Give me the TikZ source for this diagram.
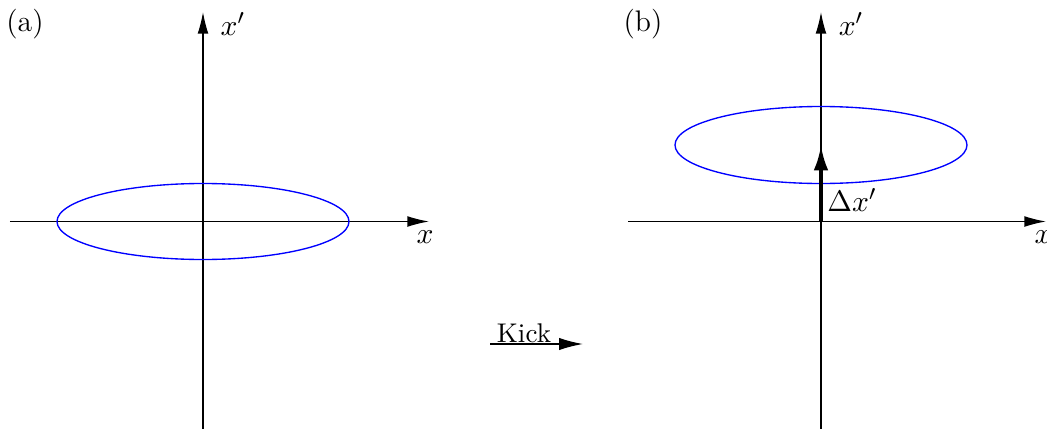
\documentclass[tikz,border=0pt]{standalone}
\usetikzlibrary{arrows.meta}

\begin{document}
\begin{tikzpicture}[x=0.013cm, y=-0.013cm,
      every node/.style={inner sep=0pt},
      lbl/.style={font=\fontsize{11}{13}\selectfont},
      axis/.style={draw=black, line width=0.45pt, -{Latex[length=0.28cm, width=0.14cm]}},
      beam/.style={draw=blue, line width=0.5pt},
      kick/.style={draw=black, line width=1.5pt, -{Latex[length=0.33cm, width=0.19cm]}},
      step arrow/.style={draw=black, line width=0.5pt, -{Latex[length=0.31cm, width=0.16cm]}}]

    \useasboundingbox (0,0) rectangle (1047,429);

    % panel (a): phase space before the kick
    \coordinate (Oa) at (203,221.5);
    \coordinate (aL) at (10,221.5);
    \coordinate (aR) at (429,221.5);
    \coordinate (aB) at (203,429);
    \coordinate (aT) at (203,12);
    \draw[axis] (aL) -- (aR);
    \draw[axis] (aB) -- (aT);
    \draw[beam] (Oa) ellipse [x radius=146, y radius=38];
    \node[lbl] (labA) at (25,24) {(a)};
    \node[lbl] (xpA) at (233,24) {$x'$};
    \node[lbl] (xA) at (425,237) {$x$};

    % the kick between the panels
    \node (kickTxt) at (524,333) {Kick};
    \coordinate (kL) at (490,344);
    \coordinate (kR) at (583,344);
    \draw[step arrow] (kL) -- (kR);

    % panel (b): ellipse moved up by the kick
    \coordinate (Ob) at (821,221.5);
    \coordinate (Cb) at (821,145);
    \coordinate (bL) at (628,221.5);
    \coordinate (bR) at (1046,221.5);
    \coordinate (bB) at (821,429);
    \coordinate (bT) at (821,12);
    \draw[axis] (bL) -- (bR);
    \draw[axis] (bB) -- (bT);
    \draw[beam] (Cb) ellipse [x radius=146, y radius=38.5];
    \draw[kick] (Ob) -- (Cb);
    \node[lbl] (labB) at (643,24) {(b)};
    \node[lbl] (xpB) at (851,24) {$x'$};
    \node[lbl] (xB) at (1043,237) {$x$};
    \node[lbl] (dxp) at (852,200) {$\Delta x'$};
  \end{tikzpicture}
\end{document}
